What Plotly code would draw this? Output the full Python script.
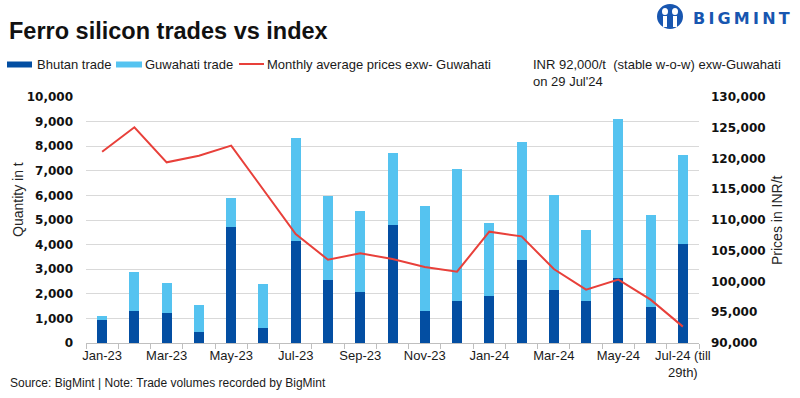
import plotly.graph_objects as go

months = ["Jan-23", "Feb-23", "Mar-23", "Apr-23", "May-23", "Jun-23", "Jul-23",
          "Aug-23", "Sep-23", "Oct-23", "Nov-23", "Dec-23", "Jan-24", "Feb-24",
          "Mar-24", "Apr-24", "May-24", "Jun-24", "Jul-24"]
tick_labels = ["Jan-23", "", "Mar-23", "", "May-23", "", "Jul-23", "", "Sep-23", "",
               "Nov-23", "", "Jan-24", "", "Mar-24", "", "May-24", "", "Jul-24 (till<br>29th)"]
bhutan = [920, 1310, 1230, 460, 4730, 620, 4160, 2580, 2090, 4810,
          1310, 1720, 1920, 3390, 2170, 1720, 2660, 1480, 4040]
guwahati = [190, 1590, 1220, 1100, 1180, 1790, 4190, 3410, 3290, 2930,
            4270, 5370, 2970, 4790, 3860, 2890, 6460, 3740, 3620]
prices = [121100, 125070, 119380, 120460, 122090, 114900, 107720, 103550, 104580, 103660,
          102360, 101600, 108100, 107340, 102030, 98670, 100300, 97050, 92660]

W, H = 800, 398
L, R, T, B = 86, 101, 97, 55
PW, PH = W - L - R, H - T - B


def px(x):
    return (x - L) / PW


def py(y):
    return (H - B - y) / PH


DARK = "#034EA2"
LIGHT = "#55C3F0"
RED = "#E8403A"
FONT = "Liberation Sans, Arial, sans-serif"

fig = go.Figure()
fig.add_trace(go.Bar(x=months, y=bhutan, name="Bhutan trade", marker_color=DARK,
                     marker_line_width=0))
fig.add_trace(go.Bar(x=months, y=guwahati, name="Guwahati trade", marker_color=LIGHT,
                     marker_line_width=0))
fig.add_trace(go.Scatter(x=months, y=prices, name="Monthly average prices exw- Guwahati",
                         mode="lines", line=dict(color=RED, width=2), yaxis="y2"))

shapes = []
annotations = []

# custom legend
shapes.append(dict(type="rect", xref="paper", yref="paper", x0=px(7), x1=px(32),
                   y0=py(61.5), y1=py(67.5), fillcolor=DARK, line_width=0))
annotations.append(dict(text="Bhutan trade", xref="paper", yref="paper", x=px(35), y=py(64.5),
                        xanchor="left", yanchor="middle", showarrow=False,
                        font=dict(family=FONT, size=13, color="#1a1a1a")))
shapes.append(dict(type="rect", xref="paper", yref="paper", x0=px(116), x1=px(142),
                   y0=py(61.5), y1=py(67.5), fillcolor=LIGHT, line_width=0))
annotations.append(dict(text="Guwahati trade", xref="paper", yref="paper", x=px(143), y=py(64.5),
                        xanchor="left", yanchor="middle", showarrow=False,
                        font=dict(family=FONT, size=13, color="#1a1a1a")))
shapes.append(dict(type="line", xref="paper", yref="paper", x0=px(239), x1=px(264),
                   y0=py(64), y1=py(64), line=dict(color=RED, width=2)))
annotations.append(dict(text="Monthly average prices exw- Guwahati", xref="paper", yref="paper",
                        x=px(265), y=py(64.5), xanchor="left", yanchor="middle", showarrow=False,
                        font=dict(family=FONT, size=13, color="#1a1a1a")))

# title
annotations.append(dict(text="<b>Ferro silicon trades vs index</b>", xref="paper", yref="paper",
                        x=px(7), y=py(31), xanchor="left", yanchor="middle", showarrow=False,
                        font=dict(family=FONT, size=23.5, color="#111111")))
# note
annotations.append(dict(text="INR 92,000/t  (stable w-o-w) exw-Guwahati<br>on 29 Jul'24",
                        xref="paper", yref="paper", x=px(531), y=py(55), xanchor="left",
                        yanchor="top", align="left", showarrow=False,
                        font=dict(family=FONT, size=13, color="#1a1a1a")))
# footer
annotations.append(dict(text="Source: BigMint | Note: Trade volumes recorded by BigMint",
                        xref="paper", yref="paper", x=px(8), y=py(383), xanchor="left",
                        yanchor="middle", showarrow=False,
                        font=dict(family=FONT, size=12, color="#1a1a1a")))
# axis titles
annotations.append(dict(text="Quantity in t", xref="paper", yref="paper", x=px(18), y=py(200),
                        xanchor="center", yanchor="middle", textangle=-90, showarrow=False,
                        font=dict(family=FONT, size=14, color="#262626")))
annotations.append(dict(text="Prices in INR/t", xref="paper", yref="paper", x=px(777), y=py(220),
                        xanchor="center", yanchor="middle", textangle=-90, showarrow=False,
                        font=dict(family=FONT, size=14, color="#262626")))
# logo
LOGO = "#1856B0"
shapes.append(dict(type="circle", xref="paper", yref="paper", x0=px(657), x1=px(683),
                   y0=py(29), y1=py(4), fillcolor=LOGO, line_width=0))
shapes.append(dict(type="circle", xref="paper", yref="paper", x0=px(662), x1=px(668),
                   y0=py(15), y1=py(8), fillcolor="white", line_width=0))
shapes.append(dict(type="circle", xref="paper", yref="paper", x0=px(672), x1=px(678),
                   y0=py(15), y1=py(8), fillcolor="white", line_width=0))
shapes.append(dict(type="rect", xref="paper", yref="paper", x0=px(663), x1=px(667),
                   y0=py(27), y1=py(16), fillcolor="white", line_width=0))
shapes.append(dict(type="rect", xref="paper", yref="paper", x0=px(673), x1=px(677),
                   y0=py(27), y1=py(16), fillcolor="white", line_width=0))
annotations.append(dict(text="<b>B\u2009I\u2009G\u2009M\u2009I\u2009N\u2009T</b>",
                        xref="paper", yref="paper", x=px(691),
                        y=py(19), xanchor="left", yanchor="middle", showarrow=False,
                        font=dict(family="DejaVu Sans, " + FONT, size=16, color=LOGO)))

fig.update_layout(
    width=W, height=H, autosize=False,
    margin=dict(l=L, r=R, t=T, b=B, pad=0),
    paper_bgcolor="white", plot_bgcolor="white",
    barmode="stack", bargap=0.69,
    showlegend=False,
    font=dict(family=FONT, size=13, color="#1a1a1a"),
    xaxis=dict(type="category", categoryorder="array", categoryarray=months,
               tickmode="array", tickvals=months, ticktext=tick_labels,
               tickson="boundaries", ticks="outside", ticklen=5, tickcolor="#bfbfbf",
               showline=True, linecolor="#bfbfbf", linewidth=1, showgrid=False,
               tickangle=0, tickfont=dict(family=FONT, size=13, color="#1a1a1a"),
               range=[-0.5, len(months) - 0.5]),
    yaxis=dict(range=[0, 10000], dtick=1000, tickformat=",", showgrid=True,
               gridcolor="#d9d9d9", gridwidth=1, zeroline=False, showline=False,
               ticks="", ticklabelstandoff=12,
               tickfont=dict(family="DejaVu Sans", size=12, color="#111111", weight="bold")),
    yaxis2=dict(range=[90000, 130000], dtick=5000, tickformat=",", overlaying="y",
                side="right", showgrid=False, zeroline=False, showline=False, ticks="",
                ticklabelstandoff=11,
                tickfont=dict(family="DejaVu Sans", size=12, color="#111111", weight="bold")),
    shapes=shapes, annotations=annotations,
)

fig.write_html("out.html", config={"displayModeBar": False},
               post_script="document.body.style.margin='0';document.body.style.overflow='hidden';")
